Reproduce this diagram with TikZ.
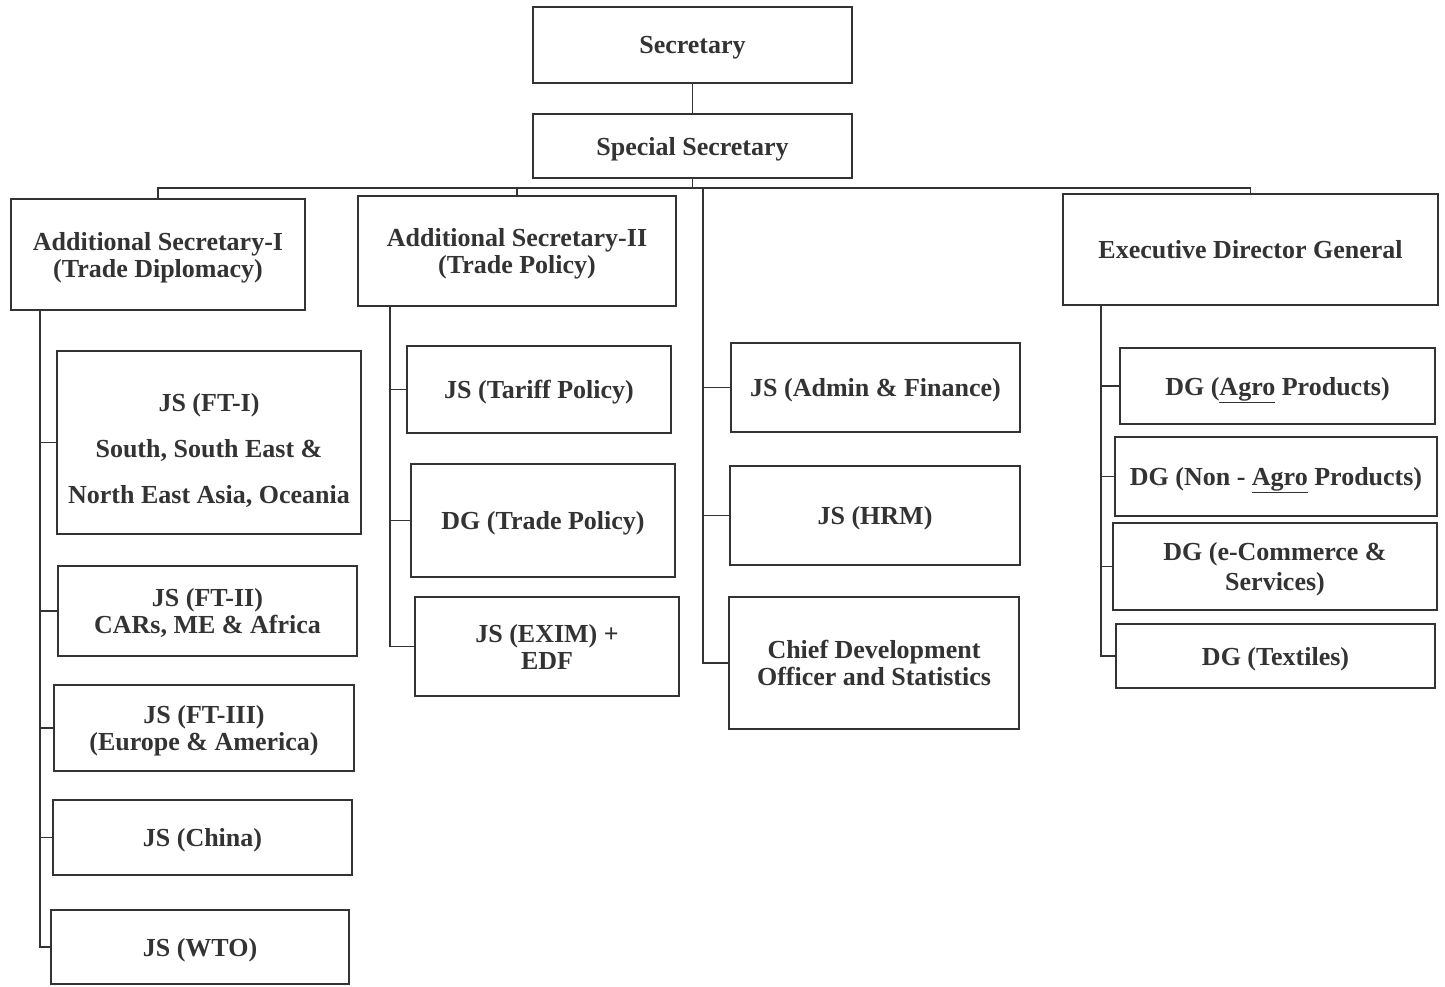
\documentclass[tikz,border=0pt]{standalone}
\usepackage{fontspec}
\setmainfont{Liberation Serif}
\definecolor{ink}{HTML}{333333}
\tikzset{
  box/.style={draw=ink, line width=1.7pt, text=ink, fill=white,
    font=\bfseries\fontsize{26}{27}\selectfont, align=center, inner sep=2pt,
    text depth=0pt},
  conn/.style={draw=ink, line width=1.7pt}
}
\begin{document}
\begin{tikzpicture}[x=1pt,y=-1pt]
\useasboundingbox (0,0) rectangle (1445,987);
% top
\node[box, minimum width=319, minimum height=76] (sec) at (692.5,45) {Secretary};
\node[box, minimum width=319, minimum height=64] (ss) at (692.5,146) {Special Secretary};
% level 2
\node[box, minimum width=294, minimum height=111] (as1) at (158,254.5) {Additional Secretary-I\\(Trade Diplomacy)};
\node[box, minimum width=318, minimum height=110] (as2) at (517,251) {Additional Secretary-II\\(Trade Policy)};
\node[box, minimum width=375, minimum height=111] (edg) at (1250.5,249.5) {Executive Director General};
% AS-I children
\node[box, minimum width=304, minimum height=183, text height=122pt, font=\bfseries\fontsize{26}{46}\selectfont] (ft1) at (209,442.5) {JS (FT-I)\\South, South East \&\\North East Asia, Oceania};
\node[box, minimum width=299, minimum height=90] (ft2) at (207.5,611) {JS (FT-II)\\CARs, ME \& Africa};
\node[box, minimum width=300, minimum height=86] (ft3) at (204,728) {JS (FT-III)\\(Europe \& America)};
\node[box, minimum width=299, minimum height=75] (china) at (202.5,837.5) {JS (China)};
\node[box, minimum width=298, minimum height=74] (wto) at (200,947) {JS (WTO)};
% AS-II children
\node[box, minimum width=264, minimum height=87] (tariff) at (539,389.5) {JS (Tariff Policy)};
\node[box, minimum width=264, minimum height=113] (dgtp) at (543,520.5) {DG (Trade Policy)};
\node[box, minimum width=264, minimum height=99] (exim) at (547,646.5) {JS (EXIM) +\\EDF};
% middle column
\node[box, minimum width=289, minimum height=89] (admin) at (875.5,387.5) {JS (Admin \& Finance)};
\node[box, minimum width=290, minimum height=99] (hrm) at (875,515.5) {JS (HRM)};
\node[box, minimum width=290, minimum height=132] (chief) at (874,663) {Chief Development\\Officer and Statistics};
% EDG children
\node[box, minimum width=315, minimum height=76] (agro) at (1277.5,386) {DG (\underline{Agro} Products)};
\node[box, minimum width=322, minimum height=79] (nonagro) at (1276,476.5) {DG (Non - \underline{Agro} Products)};
\node[box, minimum width=324, minimum height=87, font=\bfseries\fontsize{26}{30}\selectfont] (ecom) at (1275,566.5) {DG (e-Commerce \&\\Services)};
\node[box, minimum width=319, minimum height=64] (tex) at (1275.5,656) {DG (Textiles)};
% connectors
\coordinate (bus) at (692.5,188);
\coordinate (mt) at (703,188);
\coordinate (t1) at (40,310);
\coordinate (t2) at (390,306);
\coordinate (t4) at (1101,305);
\draw[conn] (sec) -- (ss);
\draw[conn] (ss.south) -- (bus);
\draw[conn] (as1.north) |- (bus);
\draw[conn] (edg.north) |- (bus);
\draw[conn] (as2.north) -- (as2.north |- bus);
\foreach \n in {ft1,ft2,ft3,china,wto} \draw[conn] (t1) |- (\n.west);
\foreach \n in {tariff,dgtp,exim} \draw[conn] (t2) |- (\n.west);
\foreach \n in {admin,hrm,chief} \draw[conn] (mt) |- (\n.west);
\foreach \n in {agro,nonagro,ecom,tex} \draw[conn] (t4) |- (\n.west);
\end{tikzpicture}
\end{document}
